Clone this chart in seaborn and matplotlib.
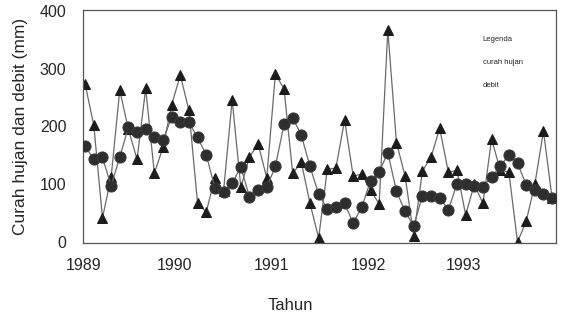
import numpy as np
import pandas as pd
import matplotlib
matplotlib.use("Agg")
import matplotlib.pyplot as plt
import seaborn as sns

curah_hujan = [273, 202, 42, 112, 263, 195, 143, 266, 119, 164,
               237, 289, 228, 67, 52, 111, 88, 246, 95, 147,
               170, 111, 291, 265, 119, 138, 67, 7, 126, 128,
               211, 114, 118, 90, 66, 367, 172, 114, 11, 123,
               147, 197, 121, 124, 47, 100, 67, 178, 125, 121,
               0, 36, 100, 192, 76]
debit = [166, 143, 147, 97, 147, 199, 191, 195, 181, 176,
         216, 207, 207, 181, 151, 94, 87, 102, 130, 78,
         90, 95, 131, 204, 215, 185, 131, 83, 57, 61,
         67, 33, 61, 106, 121, 155, 88, 53, 28, 80,
         79, 77, 56, 101, 101, 97, 96, 113, 131, 151,
         137, 99, 91, 84, 76]
year_labels = ["1989", "1990", "1991", "1992", "1993"]
year_pos = [-0.2, 10.3, 21.5, 32.8, 43.8]
y_ticks = [0, 100, 200, 300, 400]
legend_lines = ["Legenda", "curah hujan", "debit"]

idx = np.arange(len(curah_hujan))
df = pd.DataFrame({"t": idx, "curah": curah_hujan, "debit": debit})

sns.set_style("white")
plt.rcParams["font.family"] = ["Liberation Sans", "DejaVu Sans"]

fig = plt.figure(figsize=(5.62, 3.24), dpi=100)
ax = fig.add_axes([83 / 562, 1 - 243 / 324, (556 - 83) / 562, (243 - 10) / 324])

sns.lineplot(data=df, x="t", y="curah", ax=ax, color="#6a6a6a", linewidth=0.9,
             marker="^", markersize=7, markerfacecolor="#1c1c1c",
             markeredgecolor="#1c1c1c", zorder=2)
sns.lineplot(data=df, x="t", y="debit", ax=ax, color="#6a6a6a", linewidth=0.9,
             marker="o", markersize=8, markerfacecolor="#2e2e2e",
             markeredgecolor="#3a3a3a", zorder=3)

ax.set_xlim(-0.25, 54.45)
ax.set_ylim(-1.5, 401.5)
ax.set_xticks(year_pos)
ax.set_xticklabels(year_labels, fontsize=11.5)
ax.set_yticks(y_ticks)
ax.set_yticklabels([str(v) for v in y_ticks], fontsize=11.5)
ax.tick_params(axis="x", direction="in", length=3, pad=11, color="#555")
ax.tick_params(axis="y", direction="out", length=3, pad=9, color="#555")
ax.set_xlabel("")
ax.set_ylabel("Curah hujan dan debit (mm)", fontsize=12.5, labelpad=8)

for s in ax.spines.values():
    s.set_color("#555555")
    s.set_linewidth(0.9)
    s.set_visible(True)

fig.text(290 / 562, 1 - 305 / 324, "Tahun", fontsize=12, ha="center", va="center")

for i, txt in enumerate(legend_lines):
    ax.text(0.845, 0.875 - i * 0.1, txt, transform=ax.transAxes, fontsize=5.5,
            ha="left", va="center")

fig.savefig("out.png", dpi=100)
